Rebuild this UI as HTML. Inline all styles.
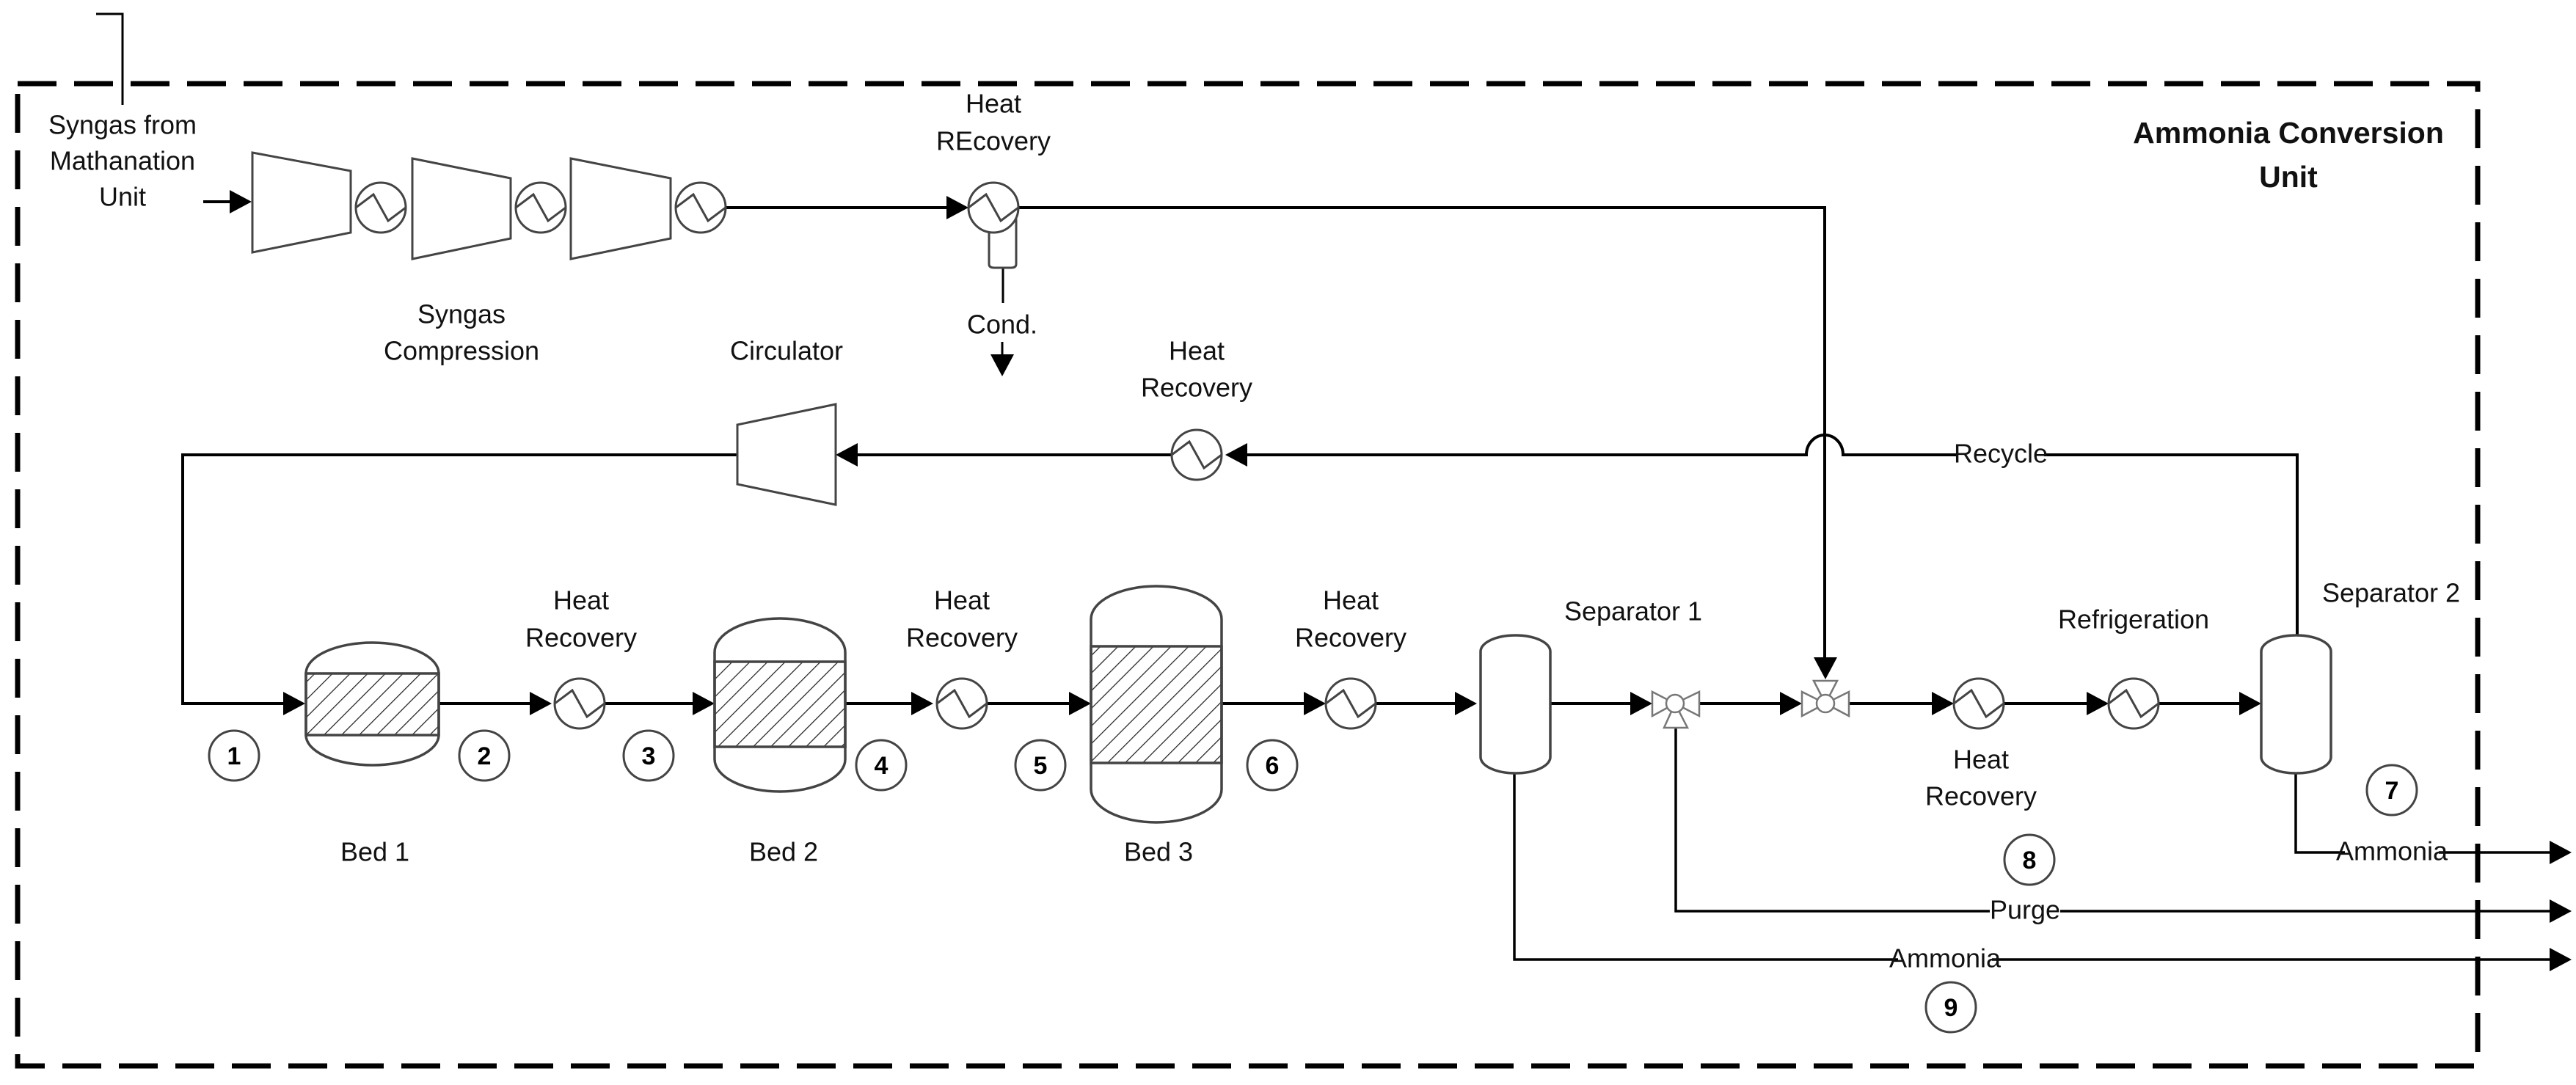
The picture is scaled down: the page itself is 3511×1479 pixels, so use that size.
<!DOCTYPE html>
<html><head><meta charset="utf-8"><style>html,body{margin:0;padding:0;background:#fff}svg{display:block}</style></head><body>
<svg xmlns="http://www.w3.org/2000/svg" width="3511" height="1479" viewBox="0 0 3511 1479" font-family="'Liberation Sans', sans-serif" font-size="36">
<defs>
<pattern id="h" patternUnits="userSpaceOnUse" width="17" height="17" patternTransform="rotate(45)">
<line x1="0" y1="0" x2="0" y2="17" stroke="#222" stroke-width="2.5"/>
</pattern>
<g id="hx"><circle r="34" fill="#fff" stroke="#444" stroke-width="3"/><path d="M-34,0 L-10,-18 L10,18 L34,0" fill="none" stroke="#444" stroke-width="3"/></g>
<path id="ar" d="M0,0 L-30,-16 L-30,16 Z" fill="#000"/>
</defs>
<rect width="3511" height="1479" fill="#fff"/>
<path d="M24,114 H3377 V1453 H24 Z" fill="none" stroke="#000" stroke-width="7" stroke-dasharray="53 24"/>
<path d="M131,19 H167 V143" fill="none" stroke="#000" stroke-width="3"/>
<g text-anchor="middle" dominant-baseline="central" fill="#111">
<text x="167" y="170">Syngas from</text>
<text x="167" y="219">Mathanation</text>
<text x="167" y="268">Unit</text>
<text x="629" y="428">Syngas</text>
<text x="629" y="478">Compression</text>
<text x="1072" y="478">Circulator</text>
<text x="1354" y="141">Heat</text>
<text x="1354" y="192">REcovery</text>
<text x="1366" y="442">Cond.</text>
<text x="1631" y="478">Heat</text>
<text x="1631" y="528">Recovery</text>
<text x="792" y="818">Heat</text><text x="792" y="869">Recovery</text>
<text x="1311" y="818">Heat</text><text x="1311" y="869">Recovery</text>
<text x="1841" y="818">Heat</text><text x="1841" y="869">Recovery</text>
<text x="2226" y="833">Separator 1</text>
<text x="2908" y="844">Refrigeration</text>
<text x="3259" y="808">Separator 2</text>
<text x="2700" y="1035">Heat</text><text x="2700" y="1085">Recovery</text>
<text x="511" y="1161">Bed 1</text>
<text x="1068" y="1161">Bed 2</text>
<text x="1579" y="1161">Bed 3</text>
<text x="3119" y="181" font-weight="bold" font-size="41">Ammonia Conversion</text>
<text x="3119" y="241" font-weight="bold" font-size="41">Unit</text>
</g>
<g fill="none" stroke="#000" stroke-width="4">
<path d="M277,275 H320"/>
<path d="M990,283 H1295"/>
<path d="M1388,283 H2487 V900"/>
<path d="M3131,866 V620 H2512 A25,27 0 0 0 2462,620 H1695"/>
<path d="M1597,620 H1165"/>
<path d="M1005,620 H249 V959 H390"/>
<path d="M597,959 H726 M824,959 H948 M1152,959 H1246 M1345,959 H1461 M1665,959 H1781 M1875,959 H1987 M2113,959 H2224 M2316,959 H2429 M2520,959 H2637 M2731,959 H2848 M2942,959 H3056"/>
<path d="M3129,1054 V1162 H3480" stroke-width="3.5"/>
<path d="M2284,993 V1242 H3480" stroke-width="3.5"/>
<path d="M2064,1054 V1308 H3480" stroke-width="3.5"/>
<path d="M1367,365 V413 M1366,466 V490" stroke-width="3"/>
</g>
<use href="#ar" transform="translate(343,275)"/>
<use href="#ar" transform="translate(1320,283)"/>
<use href="#ar" transform="translate(2488,926) rotate(90)"/>
<use href="#ar" transform="translate(1366,513) rotate(90)"/>
<use href="#ar" transform="translate(1670,620) rotate(180)"/>
<use href="#ar" transform="translate(1139,620) rotate(180)"/>
<use href="#ar" transform="translate(416,959)"/>
<use href="#ar" transform="translate(752,959)"/>
<use href="#ar" transform="translate(974,959)"/>
<use href="#ar" transform="translate(1272,959)"/>
<use href="#ar" transform="translate(1487,959)"/>
<use href="#ar" transform="translate(1807,959)"/>
<use href="#ar" transform="translate(2013,959)"/>
<use href="#ar" transform="translate(2252,959)"/>
<use href="#ar" transform="translate(2456,959)"/>
<use href="#ar" transform="translate(2663,959)"/>
<use href="#ar" transform="translate(2874,959)"/>
<use href="#ar" transform="translate(3082,959)"/>
<use href="#ar" transform="translate(3505,1162)"/>
<use href="#ar" transform="translate(3505,1242)"/>
<use href="#ar" transform="translate(3505,1308)"/>
<g fill="#fff" stroke="#444" stroke-width="3">
<path d="M344,208 L478,233 L478,317 L344,344 Z"/>
<path d="M562,216 L696,243 L696,325 L562,353 Z"/>
<path d="M778,216 L914,243 L914,325 L778,353 Z"/>
<path d="M1139,551 L1005,579 L1005,660 L1139,688 Z"/>
<path d="M1348,300 H1385 V360 Q1385,365 1378,365 H1355 Q1348,365 1348,360 Z"/>
</g>
<use href="#hx" x="519" y="283"/>
<use href="#hx" x="737" y="283"/>
<use href="#hx" x="955" y="283"/>
<use href="#hx" x="1354" y="283"/>
<use href="#hx" x="1631" y="620"/>
<use href="#hx" x="790" y="959"/>
<use href="#hx" x="1311" y="959"/>
<use href="#hx" x="1841" y="959"/>
<use href="#hx" x="2697" y="959"/>
<use href="#hx" x="2908" y="959"/>
<g stroke="#444" stroke-width="3.5">
<path d="M417,918 A90.5,42 0 0 1 598,918 V1002 A90.5,41 0 0 1 417,1002 Z" fill="#fff"/>
<rect x="417" y="918" width="181" height="84" fill="url(#h)"/>
<path d="M974,889 A89,46 0 0 1 1152,889 V1035 A89,44 0 0 1 974,1035 Z" fill="#fff"/>
<rect x="974" y="902" width="178" height="116" fill="url(#h)"/>
<path d="M1487,844 A89,45 0 0 1 1665,844 V1076 A89,45 0 0 1 1487,1076 Z" fill="#fff"/>
<rect x="1487" y="881" width="178" height="159" fill="url(#h)"/>
<path d="M2018,888 A47.5,22 0 0 1 2113,888 V1032 A47.5,22 0 0 1 2018,1032 Z" fill="#fff"/>
<path d="M3082,888 A47.5,22 0 0 1 3177,888 V1032 A47.5,22 0 0 1 3082,1032 Z" fill="#fff"/>
</g>
<g fill="#fff" stroke="#777" stroke-width="2.5">
<path d="M2252,943 L2283,959 L2252,976 Z M2316,943 L2283,959 L2316,976 Z M2268,992 L2283,959 L2300,992 Z"/>
<circle cx="2283" cy="959" r="12"/>
<path d="M2456,943 L2488,959 L2456,976 Z M2520,943 L2488,959 L2520,976 Z M2472,928 L2488,959 L2504,928 Z"/>
<circle cx="2488" cy="959" r="12"/>
</g>
<g text-anchor="middle" dominant-baseline="central" fill="#111">
<rect x="2668" y="600" width="118" height="40" fill="#fff"/><text x="2727" y="618">Recycle</text>
<rect x="3196" y="1142" width="128" height="40" fill="#fff"/><text x="3260" y="1160">Ammonia</text>
<rect x="2712" y="1222" width="96" height="40" fill="#fff"/><text x="2760" y="1240">Purge</text>
<rect x="2587" y="1288" width="128" height="40" fill="#fff"/><text x="2651" y="1306">Ammonia</text>
</g>
<g fill="#fff" stroke="#444" stroke-width="3">
<circle cx="319" cy="1030" r="34"/><circle cx="660" cy="1030" r="34"/><circle cx="884" cy="1030" r="34"/>
<circle cx="1201" cy="1043" r="34"/><circle cx="1418" cy="1043" r="34"/><circle cx="1734" cy="1043" r="34"/>
<circle cx="3260" cy="1077" r="34"/><circle cx="2766" cy="1172" r="34"/><circle cx="2659" cy="1373" r="34"/>
</g>
<g text-anchor="middle" dominant-baseline="central" font-weight="bold" font-size="34" fill="#000">
<text x="319" y="1031">1</text><text x="660" y="1031">2</text><text x="884" y="1031">3</text>
<text x="1201" y="1044">4</text><text x="1418" y="1044">5</text><text x="1734" y="1044">6</text>
<text x="3260" y="1078">7</text><text x="2766" y="1173">8</text><text x="2659" y="1374">9</text>
</g>
</svg>
</body></html>
